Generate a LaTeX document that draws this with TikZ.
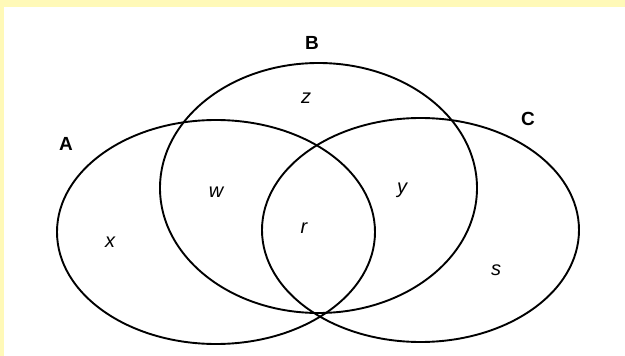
\documentclass[tikz,border=0pt]{standalone}
\usepackage{xcolor}
\usepackage{fontspec}
\setmainfont{Liberation Sans}
\usepackage{tikz}
\definecolor{giallino}{HTML}{FFF9B8}
\tikzset{
  insieme/.style={line width=1.9pt, black},
  nomeins/.style={font=\fontsize{19}{21}\selectfont\bfseries},
  elem/.style={font=\fontsize{20}{22}\selectfont\itshape}
}

\begin{document}
\begin{tikzpicture}[x=1pt, y=-1pt]
        % Sfondo
        \useasboundingbox (0,0) rectangle (625,356);
        \fill[giallino] (0,0) rectangle (625,356);
        \fill[white] (4,7) rectangle (625,356);
        % Insiemi A, B, C
        \draw[insieme] (216,232) ellipse [x radius=159pt, y radius=112pt];
        \draw[insieme] (318.5,188) ellipse [x radius=158.5pt, y radius=125pt];
        \draw[insieme] (420.5,230) ellipse [x radius=158.5pt, y radius=112pt];
        \node[nomeins] (nomeA) at (66,144) {A};
        \node[nomeins] (nomeB) at (312,43) {B};
        \node[nomeins] (nomeC) at (528,119) {C};
        % Elementi delle regioni
        \node[elem] (ex) at (110,242) {x};
        \node[elem] (ez) at (306,98) {z};
        \node[elem] (ew) at (216,192) {w};
        \node[elem] (ey) at (402,190) {y};
        \node[elem] (er) at (304,228) {r};
        \node[elem] (es) at (496,270) {s};
    \end{tikzpicture}
\end{document}
